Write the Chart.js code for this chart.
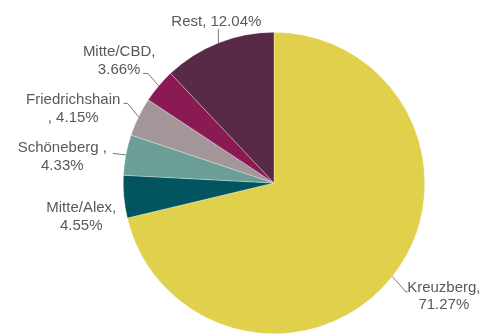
<!DOCTYPE html>
<html>
<head>
<meta charset="utf-8">
<script src="https://cdn.jsdelivr.net/npm/chart.js@4/dist/chart.umd.min.js"></script>
<style>
  html, body { margin: 0; padding: 0; background: #fff; }
  #chart { display: block; }
</style>
</head>
<body>
<canvas id="chart" width="486" height="334"></canvas>
<script>
// Données (parts en %)
const districts = ['Kreuzberg', 'Mitte/Alex', 'Schöneberg ', 'Friedrichshain', 'Mitte/CBD', 'Rest'];
const shares = [71.27, 4.55, 4.33, 4.15, 3.66, 12.04];
const sliceColors = ['#e0d04b', '#02555e', '#6a9e96', '#a29699', '#8b1a52', '#582a48'];

// Mise en page des étiquettes, relative au point du bord de chaque part
// split : 'one' = une ligne, 'after' = coupure après la virgule, 'before' = coupure avant
const labelLayout = [
    { split: 'after',  text: [51.5, 11.4],   leader: [[0, 0], [13.5, 15.4], [15.5, 15.4]] },
    { split: 'after',  text: [-42.6, 11.3],  leader: null },
    { split: 'after',  text: [-63.6, -6.9],  leader: [[0, 0], [-13, -1.5]] },
    { split: 'before', text: [-65.3, -16.8], leader: [[0, 0], [-11, -13.5], [-15, -13.5]] },
    { split: 'after',  text: [-39.5, -33.8], leader: [[0, 0], [-10.5, -12.5], [-15.5, -12.5]] },
    { split: 'one',    text: [-2, -20.7],    leader: [[0, 0], [0, -14]] }
];

function labelLines(i) {
    const name = districts[i];
    const val = shares[i].toFixed(2) + '%';
    const mode = labelLayout[i].split;
    if (mode === 'one') return [name + ', ' + val];
    if (mode === 'before') return [name, ', ' + val];
    return [name + ',', val];
}

// Plugin pour les étiquettes avec lignes de rappel
const pieLabels = {
    id: 'pieLabels',
    afterDatasetsDraw(chart) {
        const ctx = chart.ctx;
        const meta = chart.getDatasetMeta(0);
        ctx.save();
        ctx.font = '15px "Liberation Sans", Arial, sans-serif';
        ctx.fillStyle = '#595959';
        ctx.strokeStyle = '#595959';
        ctx.lineWidth = 0.8;
        ctx.textAlign = 'center';
        ctx.textBaseline = 'middle';

        meta.data.forEach((arc, i) => {
            const p = arc.getProps(['x', 'y', 'startAngle', 'endAngle', 'outerRadius'], true);
            const mid = (p.startAngle + p.endAngle) / 2;
            const ex = p.x + Math.cos(mid) * p.outerRadius;
            const ey = p.y + Math.sin(mid) * p.outerRadius;
            const lay = labelLayout[i];

            if (lay.leader) {
                ctx.beginPath();
                lay.leader.forEach(([dx, dy], k) => {
                    if (k === 0) ctx.moveTo(ex + dx, ey + dy);
                    else ctx.lineTo(ex + dx, ey + dy);
                });
                ctx.stroke();
            }

            const lines = labelLines(i);
            lines.forEach((line, k) => {
                ctx.fillText(line, ex + lay.text[0], ey + lay.text[1] + k * 17.5);
            });
        });
        ctx.restore();
    }
};

new Chart(document.getElementById('chart'), {
    type: 'pie',
    data: {
        labels: districts,
        datasets: [{
            data: shares,
            backgroundColor: sliceColors,
            borderColor: 'rgba(255,255,255,0.6)',
            borderWidth: 0.5
        }]
    },
    options: {
        responsive: false,
        animation: false,
        layout: { padding: { left: 123, right: 61, top: 32, bottom: 0 } },
        plugins: {
            legend: { display: false },
            tooltip: { enabled: false }
        }
    },
    plugins: [pieLabels]
});
</script>
</body>
</html>
